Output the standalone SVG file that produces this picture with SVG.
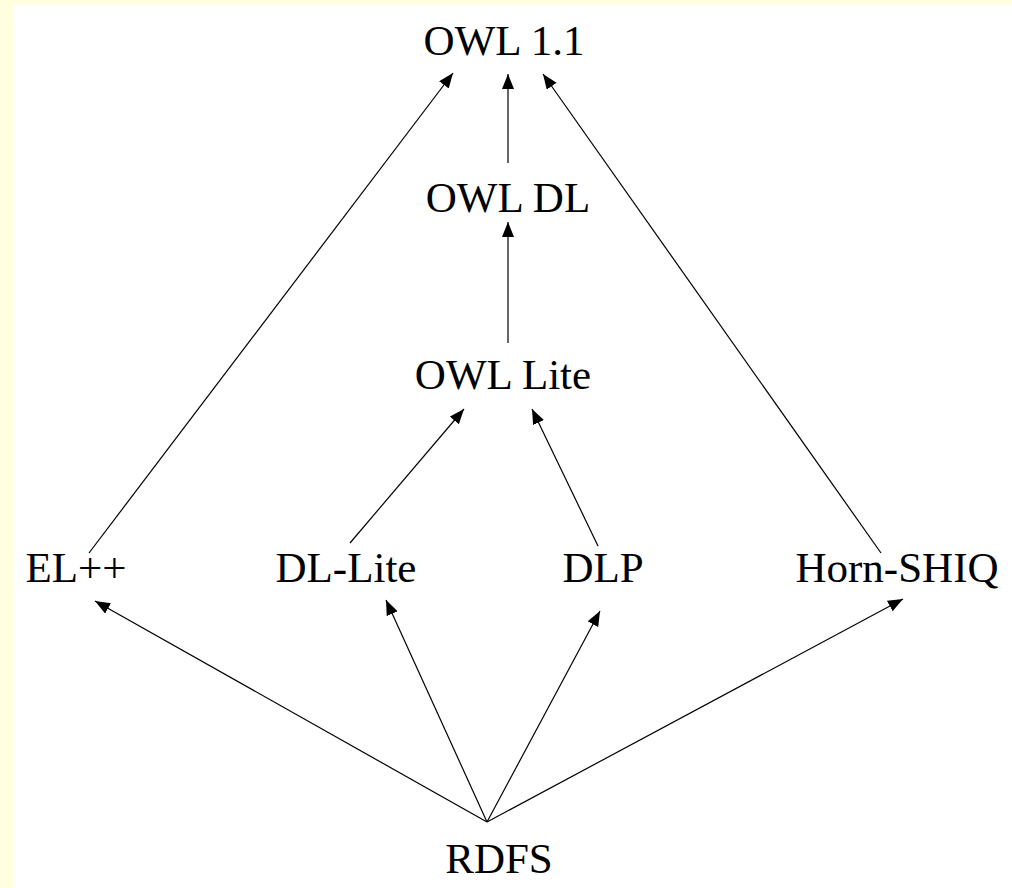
<svg xmlns="http://www.w3.org/2000/svg" width="1012" height="888" viewBox="0 0 1012 888">
<style>
.lbl{font-family:"Liberation Serif","Times New Roman",serif;font-size:43px;fill:#000;text-anchor:middle}
.edge{stroke:#000;stroke-width:1.2;fill:none;marker-end:url(#ah)}
</style>
<defs>
<marker id="ah" markerUnits="userSpaceOnUse" markerWidth="16" markerHeight="13" refX="15" refY="6" orient="auto">
<path d="M0,0 L15,6 L0,12 z" fill="#000"/>
</marker>
</defs>
<rect x="0" y="0" width="1012" height="888" fill="#FFFFDF"/>
<rect x="13" y="5" width="999" height="883" fill="#FFFFFF"/>
<g id="connectors">
<line class="edge" x1="89" y1="553" x2="453" y2="73"/>
<line class="edge" x1="508" y1="163" x2="508" y2="74"/>
<line class="edge" x1="881" y1="553" x2="543" y2="74"/>
<line class="edge" x1="508" y1="343" x2="508" y2="222"/>
<line class="edge" x1="350" y1="543" x2="464" y2="409"/>
<line class="edge" x1="598" y1="546" x2="532" y2="409"/>
<line class="edge" x1="487" y1="822" x2="95" y2="601"/>
<line class="edge" x1="487" y1="822" x2="386" y2="600"/>
<line class="edge" x1="487" y1="822" x2="600" y2="611"/>
<line class="edge" x1="487" y1="822" x2="903" y2="599"/>
</g>
<g id="owl11"><text class="lbl" x="504" y="55">OWL 1.1</text></g>
<g id="owldl"><text class="lbl" x="508" y="212">OWL DL</text></g>
<g id="owllite"><text class="lbl" x="503" y="389">OWL Lite</text></g>
<g id="elpp"><text class="lbl" x="76" y="582">EL++</text></g>
<g id="dllite"><text class="lbl" x="346" y="582">DL-Lite</text></g>
<g id="dlp"><text class="lbl" x="603" y="582">DLP</text></g>
<g id="hornshiq"><text class="lbl" x="897" y="582">Horn-SHIQ</text></g>
<g id="rdfs"><text class="lbl" x="499" y="873">RDFS</text></g>
</svg>
